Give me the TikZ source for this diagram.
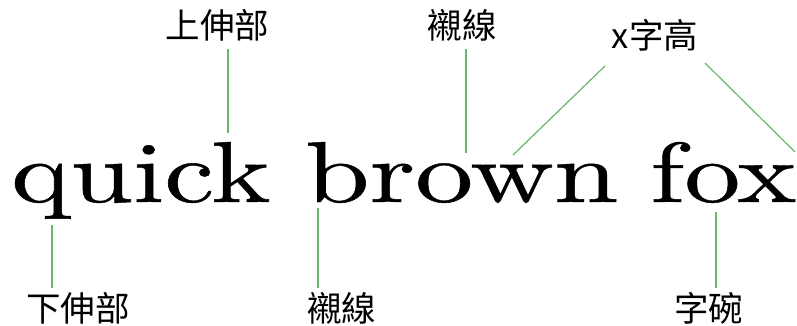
\documentclass[tikz,border=0pt]{standalone}
\usepackage{fontspec}
\newfontfamily\cjk{Noto Sans CJK TC}
\newfontfamily\specfont[FakeBold=0.5]{Latin Modern Roman}
\definecolor{leadgreen}{RGB}{104,182,104}
\begin{document}
\begin{tikzpicture}[x=1pt,y=-1pt,
  lbl/.style={anchor=base,inner sep=0pt,font=\cjk\fontsize{34.5}{34.5}\selectfont},
  word/.style={anchor=base west,inner sep=0pt,font=\specfont},
  lead/.style={draw=leadgreen,line width=1.2pt}]
\useasboundingbox (0,0) rectangle (797,325);
% specimen text
\node[word] (w1) at (11,202)  {\resizebox{259pt}{60pt}{quick}};
\node[word] (w2) at (305,202) {\resizebox{313pt}{60pt}{brown}};
\node[word] (w3) at (650,202) {\resizebox{146pt}{60pt}{fox}};
% labels
\node[lbl] (asc)  at (217.5,38)  {上伸部};
\node[lbl] (sert) at (462,38)    {襯線};
\node[lbl] (xh)   at (655,48)    {x字高};
\node[lbl] (desc) at (78,321)    {下伸部};
\node[lbl] (serb) at (341.5,321) {襯線};
\node[lbl] (bowl) at (708.5,321) {字碗};
% leader end points
\coordinate (ascA) at (228,49);   \coordinate (ascB) at (228,133);
\coordinate (sertA) at (466,49);  \coordinate (sertB) at (466,153);
\coordinate (xhLA) at (605,66);   \coordinate (xhLB) at (513,155);
\coordinate (xhRA) at (705,63);   \coordinate (xhRB) at (795,152);
\coordinate (descA) at (52,225);  \coordinate (descB) at (52,288);
\coordinate (serbA) at (318,208); \coordinate (serbB) at (318,288);
\coordinate (bowlA) at (716,212); \coordinate (bowlB) at (716,288);
% leaders
\draw[lead] (ascA) -- (ascB);
\draw[lead] (sertA) -- (sertB);
\draw[lead] (xhLA) -- (xhLB);
\draw[lead] (xhRA) -- (xhRB);
\draw[lead] (descA) -- (descB);
\draw[lead] (serbA) -- (serbB);
\draw[lead] (bowlA) -- (bowlB);
\end{tikzpicture}
\end{document}
